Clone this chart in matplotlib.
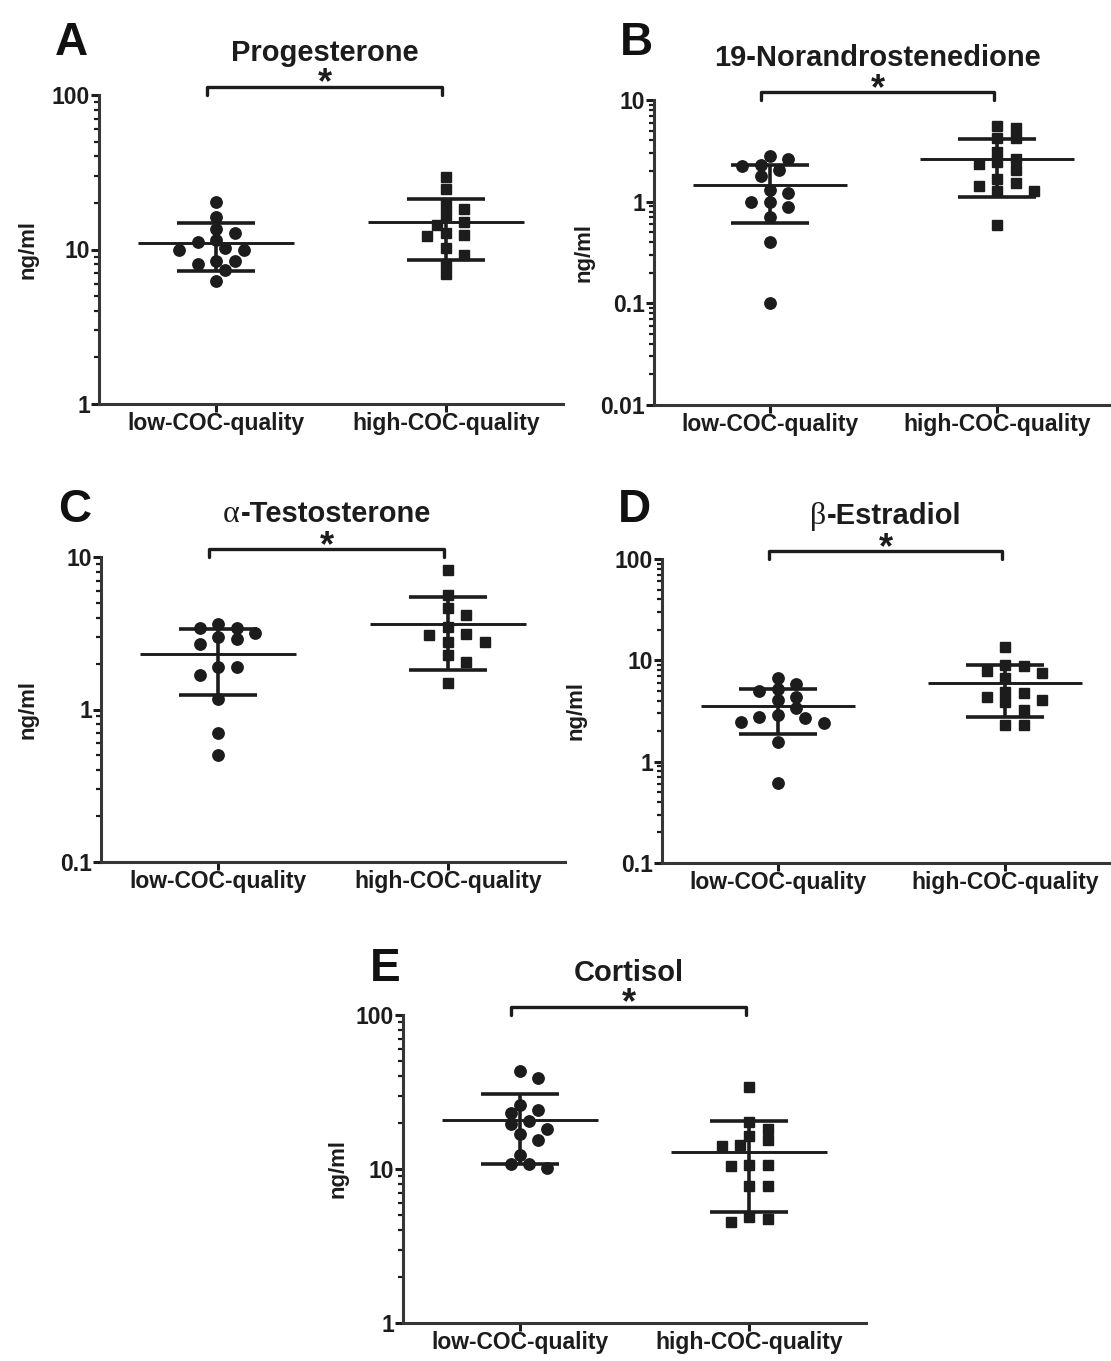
import numpy as np
import matplotlib
matplotlib.use('Agg')
import matplotlib.pyplot as plt
from matplotlib.ticker import LogLocator, FuncFormatter, NullFormatter
from matplotlib.offsetbox import TextArea, HPacker, AnnotationBbox

plt.rcParams['font.family'] = ['Liberation Sans', 'DejaVu Sans']
plt.rcParams['font.weight'] = 'bold'

W, H = 1111, 1361
INK = '#1c1c1c'

groups = ['low-COC-quality', 'high-COC-quality']

# ng/ml
prog_low = [20.4, 16.2, 13.5, 12.7, 11.1, 11.6, 9.9, 9.9, 10.2, 8.4, 8.0, 8.4, 7.4, 6.3]
prog_high = [29.6, 24.5, 19.4, 18.2, 15.1, 14.4, 16.7, 12.4, 12.7, 12.2, 10.2, 9.2, 8.1, 6.9]
nor_low = [2.81, 2.61, 2.30, 2.26, 2.05, 1.79, 1.30, 1.21, 1.0, 1.0, 0.88, 0.70, 0.40, 0.10]
nor_high = [5.55, 5.35, 4.2, 4.2, 3.1, 2.63, 2.44, 2.35, 2.05, 1.67, 1.51, 1.41, 1.28, 1.28, 0.59]
testo_low = [3.40, 3.40, 3.63, 3.0, 3.18, 2.88, 2.68, 1.89, 1.89, 1.68, 1.18, 0.70, 0.50]
testo_high = [8.18, 5.61, 4.66, 4.15, 3.48, 3.07, 2.78, 2.78, 3.15, 2.27, 2.06, 1.50]
estr_low = [6.67, 5.86, 5.19, 4.93, 4.30, 4.07, 3.37, 2.90, 2.69, 2.79, 2.44, 2.40, 1.58, 0.61]
estr_high = [13.5, 9.02, 8.82, 7.92, 7.46, 6.67, 4.74, 4.85, 4.33, 4.02, 3.84, 3.20, 2.31, 2.31]
cort_low = [43.0, 39.0, 26.1, 24.2, 23.0, 20.6, 19.6, 18.2, 16.8, 15.5, 12.4, 10.8, 10.7, 10.2]
cort_high = [34.2, 20.1, 18.2, 16.5, 15.5, 14.4, 14.2, 10.6, 10.6, 10.4, 7.73, 7.73, 4.9, 4.7, 4.54]

# layout in pixels: left, top, right, bottom of the plot area
panels = [
    dict(letter='A', lxy=(55, 55), title=[('Progesterone', 'sans')],
         low=prog_low, high=prog_high, ylim=(1, 100), box=(99, 95, 563, 404), ylab=60),
    dict(letter='B', lxy=(620, 55), title=[('19-Norandrostenedione', 'sans')],
         low=nor_low, high=nor_high, ylim=(0.01, 10), box=(654, 100, 1113, 405), ylab=59),
    dict(letter='C', lxy=(58, 522), title=[('\u03b1', 'serif'), ('-Testosterone', 'sans')],
         low=testo_low, high=testo_high, ylim=(0.1, 10), box=(101, 557, 565, 862), ylab=63),
    dict(letter='D', lxy=(618, 522), title=[('\u03b2', 'serif'), ('-Estradiol', 'sans')],
         low=estr_low, high=estr_high, ylim=(0.1, 100), box=(662, 559, 1121, 863), ylab=76),
    dict(letter='E', lxy=(370, 981), title=[('Cortisol', 'sans')],
         low=cort_low, high=cort_high, ylim=(1, 100), box=(403, 1015, 866, 1323), ylab=55),
]

XLIM = (-0.51, 1.51)


def swarm_x(ax, xc, vals, step=9.2, rx=17.0, ry=10.0):
    vals = np.asarray(vals, float)
    pts = ax.transData.transform(np.column_stack([np.full(len(vals), xc), vals]))
    ppu = ax.transData.transform((1, 1))[0] - ax.transData.transform((0, 1))[0]
    cands = [0.0]
    for k in range(1, 15):
        cands += [k * step, -k * step]
    placed = []
    offs = np.zeros(len(vals))
    for i in np.argsort(vals)[::-1]:
        y = pts[i, 1]
        for c in cands:
            if all(((c - px) / rx) ** 2 + ((y - py) / ry) ** 2 >= 1 for px, py in placed):
                break
        placed.append((c, y))
        offs[i] = c
    return xc + offs / ppu


fig = plt.figure(figsize=(W / 100, H / 100), dpi=100)

for p in panels:
    l, t, r, b = p['box']
    ax = fig.add_axes([l / W, 1 - b / H, (r - l) / W, (b - t) / H])
    ax.set_yscale('log')
    ax.set_ylim(*p['ylim'])
    ax.set_xlim(*XLIM)

    for xc, vals, mk in [(0, p['low'], 'o'), (1, p['high'], 's')]:
        xs = swarm_x(ax, xc, vals)
        ax.plot(xs, vals, ls='none', marker=mk, ms=8.2 if mk == 'o' else 7.6,
                mfc=INK, mec=INK, zorder=2, clip_on=False)
        m = np.mean(vals)
        s = np.std(vals, ddof=1)
        ax.hlines(m, xc - 0.34, xc + 0.34, color=INK, lw=2.1, zorder=3)
        ax.hlines([m - s, m + s], xc - 0.17, xc + 0.17, color=INK, lw=2.6, zorder=3)
        ax.vlines(xc, m - s, m + s, color=INK, lw=2.6, zorder=3)

    # significance bracket
    tr = ax.get_xaxis_transform()
    ax.plot([-0.04, -0.04, 0.985, 0.985], [1.0, 1.027, 1.027, 1.0], transform=tr,
            color=INK, lw=2.4, clip_on=False, solid_capstyle='round')
    ax.annotate('*', xy=(0.475, 1.027), xycoords=tr, xytext=(0, -5),
                textcoords='offset points', ha='center', va='baseline',
                fontsize=26, color=INK)

    # title (greek letters in a serif face)
    parts = []
    for txt, fam in p['title']:
        if fam == 'serif':
            props = dict(family=['Liberation Serif', 'DejaVu Serif'], weight='normal',
                         size=23, color=INK)
        else:
            props = dict(size=21, weight='bold', color=INK)
        parts.append(TextArea(txt, textprops=props))
    box = HPacker(children=parts, align='baseline', pad=0, sep=1)
    ab = AnnotationBbox(box, (0.475, 1.0), xycoords=tr, xybox=(0, 20.5),
                        boxcoords='offset points', box_alignment=(0.5, 0),
                        frameon=False, pad=0, annotation_clip=False)
    ax.add_artist(ab)

    fig.text(p['lxy'][0] / W, 1 - p['lxy'][1] / H, p['letter'], fontsize=33,
             weight='bold', color='#111111', va='baseline', ha='left')

    ax.set_xticks([0, 1])
    ax.set_xticklabels(groups)
    ax.yaxis.set_major_locator(LogLocator(base=10, numticks=10))
    ax.yaxis.set_minor_locator(LogLocator(base=10, subs=np.arange(2, 10), numticks=20))
    ax.yaxis.set_major_formatter(FuncFormatter(lambda v, _: f'{v:g}'))
    ax.yaxis.set_minor_formatter(NullFormatter())
    ax.set_ylabel('ng/ml', fontsize=16, fontweight='bold', color=INK)
    ax.yaxis.set_label_coords(-p['ylab'] / (r - l), 0.5)

    ax.tick_params(axis='both', which='major', labelsize=16.5, colors=INK, width=2.2,
                   length=5.5, direction='out')
    ax.tick_params(axis='y', which='minor', width=1.6, length=3.5, colors=INK)
    ax.tick_params(axis='x', pad=0)
    ax.tick_params(axis='y', which='major', pad=1)
    for sp in ['top', 'right']:
        ax.spines[sp].set_visible(False)
    for sp in ['left', 'bottom']:
        ax.spines[sp].set_linewidth(2.2)
        ax.spines[sp].set_color('#363636')
    ax.set_facecolor('none')

fig.savefig('out.png', dpi=100, facecolor='white')
